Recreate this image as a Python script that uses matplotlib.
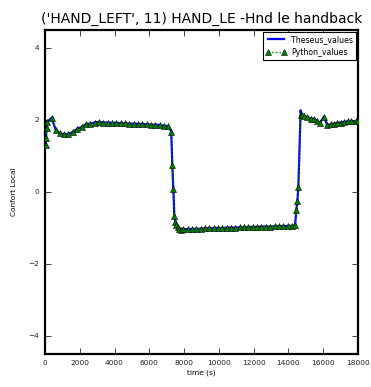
import matplotlib
matplotlib.use("Agg")
import matplotlib.pyplot as plt

title = "('HAND_LEFT', 11) HAND_LE -Hnd le handback"

time_s = [30, 60, 90, 120, 380, 620, 860, 1100, 1340, 1590, 1850, 2100, 2350, 2600,
          2850, 3100, 3350, 3600, 3850, 4100, 4350, 4600, 4850, 5100, 5350, 5600,
          5850, 6100, 6350, 6600, 6850, 7100, 7260, 7320, 7380, 7440, 7500, 7560,
          7620, 7700, 7800, 7950, 8200, 8450, 8700, 8950, 9200, 9450, 9700, 9950,
          10200, 10450, 10700, 10950, 11200, 11450, 11700, 11950, 12200, 12450,
          12700, 12950, 13200, 13450, 13700, 13950, 14200, 14380, 14450, 14510,
          14570, 14700, 14760, 14900, 15090, 15280, 15470, 15660, 15820, 16040,
          16230, 16430, 16620, 16810, 17000, 17200, 17400, 17600, 17860, 18000]

theseus_values = [1.30, 1.50, 1.78, 1.95, 2.06, 1.72, 1.63, 1.60, 1.61, 1.67, 1.75,
                  1.81, 1.88, 1.90, 1.93, 1.95, 1.93, 1.93, 1.92, 1.92, 1.91, 1.91,
                  1.90, 1.90, 1.89, 1.89, 1.88, 1.87, 1.87, 1.86, 1.84, 1.82, 1.68,
                  0.75, 0.08, -0.67, -0.82, -0.92, -0.98, -1.03, -1.05, -1.04, -1.03,
                  -1.03, -1.02, -1.02, -1.01, -1.01, -1.00, -1.00, -1.00, -0.99, -0.99,
                  -0.99, -0.98, -0.98, -0.97, -0.97, -0.97, -0.96, -0.96, -0.96, -0.95,
                  -0.95, -0.95, -0.94, -0.94, -0.93, -0.51, -0.26, 0.13, 2.27, 2.13,
                  2.10, 2.08, 2.04, 2.03, 1.97, 1.93, 2.09, 1.86, 1.88, 1.90, 1.92,
                  1.93, 1.95, 1.96, 1.97, 1.97, 1.98]

python_values = [1.30, 1.50, 1.78, 1.95, 2.06, 1.72, 1.63, 1.60, 1.61, 1.67, 1.75,
                 1.81, 1.88, 1.90, 1.93, 1.95, 1.93, 1.93, 1.92, 1.92, 1.91, 1.91,
                 1.90, 1.90, 1.89, 1.89, 1.88, 1.87, 1.87, 1.86, 1.84, 1.82, 1.68,
                 0.75, 0.08, -0.67, -0.82, -0.92, -0.98, -1.03, -1.05, -1.04, -1.03,
                 -1.03, -1.02, -1.02, -1.01, -1.01, -1.00, -1.00, -1.00, -0.99, -0.99,
                 -0.99, -0.98, -0.98, -0.97, -0.97, -0.97, -0.96, -0.96, -0.96, -0.95,
                 -0.95, -0.95, -0.94, -0.94, -0.93, -0.51, -0.26, 0.13, 2.15, 2.13,
                 2.10, 2.08, 2.04, 2.03, 1.97, 1.93, 2.09, 1.86, 1.88, 1.90, 1.92,
                 1.93, 1.95, 1.96, 1.97, 1.97, 1.98]

x_ticks = [0, 2000, 4000, 6000, 8000, 10000, 12000, 14000, 16000, 18000]
y_ticks = [-4, -2, 0, 2, 4]

plt.rcParams['font.family'] = ['DejaVu Sans']
fig = plt.figure(figsize=(3.71, 3.87), dpi=100, facecolor='white')
ax = fig.add_axes([45/371, 1 - 354/387, (358 - 45)/371, (354 - 30)/387])

ax.plot(time_s, theseus_values, color=(0, 0, 1), lw=1.6, label='Theseus_values', zorder=2)
ax.plot(time_s, python_values, color=(0, 0.5, 0), ls=':', lw=1.0, marker='^',
        markersize=4.8, markeredgecolor='black', markeredgewidth=0.4,
        label='Python_values', zorder=3)

ax.set_xlim(0, 18000)
ax.set_ylim(-4.5, 4.5)
ax.set_xticks(x_ticks)
ax.set_yticks(y_ticks)
ax.set_yticklabels(['\u22124', '\u22122', '0', '2', '4'])
ax.tick_params(direction='in', top=True, right=True, length=4, width=0.6,
               labelsize=5.3, pad=4, colors='#222222')
for sp in ax.spines.values():
    sp.set_linewidth(1.6)

ax.set_title(title, fontsize=10, pad=5)
ax.set_xlabel('time (s)', fontsize=5.3, labelpad=3)
ax.set_ylabel('Confort Local', fontsize=5.3, labelpad=8)

leg = ax.legend(loc='upper right', fontsize=5.6, numpoints=2, handlelength=2.6,
                fancybox=False, framealpha=1, borderaxespad=0.2, borderpad=0.4,
                labelspacing=0.5, handletextpad=0.7)
leg.get_frame().set_edgecolor('black')
leg.get_frame().set_linewidth(0.8)

fig.savefig('out.png', dpi=100, facecolor='white')
